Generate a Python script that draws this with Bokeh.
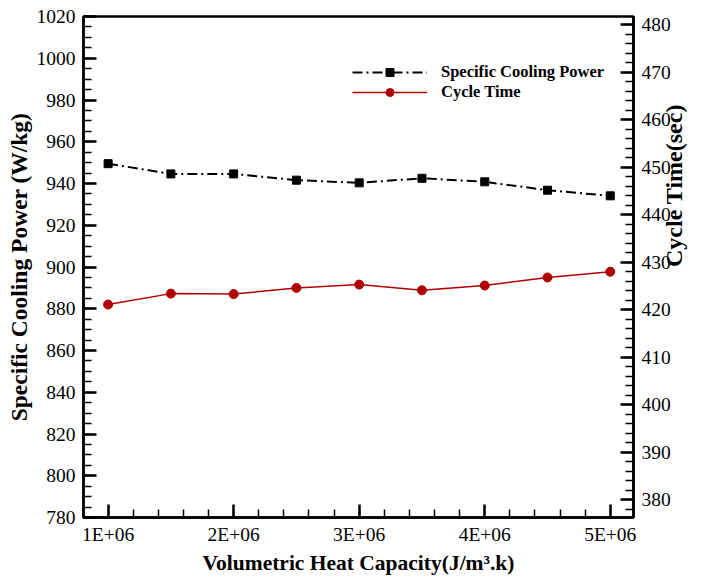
import math
from bokeh.plotting import figure
from bokeh.models import Range1d, LinearAxis, FixedTicker, Legend, LegendItem
from bokeh.embed import file_html
from bokeh.resources import INLINE

# ---- data ----
heat_capacity = [1.0e6, 1.5e6, 2.0e6, 2.5e6, 3.0e6, 3.5e6, 4.0e6, 4.5e6, 5.0e6]
specific_cooling_power = [949.5, 944.6, 944.6, 941.6, 940.3, 942.5, 940.8, 936.8, 934.1]
cycle_time = [421.1, 423.4, 423.3, 424.6, 425.3, 424.1, 425.1, 426.8, 428.0]

x_ticks = [1e6, 2e6, 3e6, 4e6, 5e6]
x_tick_labels = ["1E+06", "2E+06", "3E+06", "4E+06", "5E+06"]
left_ticks = list(range(780, 1021, 20))
right_ticks = list(range(380, 481, 10))

FONT = "Liberation Serif"

p = figure(width=702, height=577, output_backend="svg", toolbar_location=None,
           x_range=Range1d(0.804e6, 5.185e6), y_range=Range1d(780, 1020),
           min_border_left=83, min_border_right=67, min_border_top=16, min_border_bottom=56)
p.extra_y_ranges = {"ct": Range1d(376.3, 481.7)}
p.grid.visible = False
p.outline_line_color = "black"
p.outline_line_width = 2.5
p.background_fill_color = "white"
p.border_fill_color = "white"


def style_axis(ax, ticks, minor, label, label_size):
    ax.ticker = FixedTicker(ticks=ticks, minor_ticks=minor)
    ax.axis_label = label
    ax.axis_label_text_font = FONT
    ax.axis_label_text_font_style = "bold"
    ax.axis_label_text_font_size = label_size
    ax.axis_label_text_color = "black"
    ax.major_label_text_font = FONT
    ax.major_label_text_font_size = "19.5px"
    ax.major_label_text_color = "black"
    ax.axis_line_width = 2.5
    ax.axis_line_color = "black"
    ax.major_tick_in = 13
    ax.major_tick_out = 0
    ax.minor_tick_in = 8
    ax.minor_tick_out = 0
    ax.major_tick_line_width = 2.5
    ax.minor_tick_line_width = 1.5
    ax.major_tick_line_color = "black"
    ax.minor_tick_line_color = "black"
    ax.major_label_standoff = 8


xa = p.xaxis[0]
style_axis(xa, x_ticks, [1e6 + i * 0.2e6 for i in range(21)],
           "Volumetric Heat Capacity(J/m\u00b3.k)", "21.5px")
xa.major_label_overrides = {int(t): l for t, l in zip(x_ticks, x_tick_labels)}
xa.major_label_standoff = 6
xa.axis_label_standoff = 3

ya = p.yaxis[0]
style_axis(ya, left_ticks, list(range(780, 1021, 5)),
           "Specific Cooling Power (W/kg)", "23.5px")
ya.axis_label_standoff = 2

ra = LinearAxis(y_range_name="ct")
style_axis(ra, right_ticks, list(range(378, 481, 2)), "Cycle Time(sec)", "24px")
ra.axis_label_standoff = 0
try:
    ra.axis_label_orientation = math.pi / 2
except Exception:
    pass
ra.axis_label_text_align = "center"
p.add_layout(ra, "right")

# series
l1 = p.line(heat_capacity, specific_cooling_power, line_color="black", line_width=2,
            line_dash="10 4 2 4")
s1 = p.scatter(heat_capacity, specific_cooling_power, marker="square", size=8,
               fill_color="black", line_color="black")
l2 = p.line(heat_capacity, cycle_time, line_color="#b00000", line_width=1.5,
            y_range_name="ct")
s2 = p.scatter(heat_capacity, cycle_time, marker="circle", size=9,
               fill_color="#b00000", line_color="#b00000", y_range_name="ct")

legend = Legend(items=[LegendItem(label="Specific Cooling Power", renderers=[l1, s1]),
                       LegendItem(label="Cycle Time", renderers=[l2, s2])],
                location=(269, 415))
legend.label_text_font = FONT
legend.label_text_font_style = "bold"
legend.label_text_font_size = "16.5px"
legend.label_text_color = "black"
legend.glyph_width = 75
legend.glyph_height = 20
legend.label_height = 20
legend.spacing = 0
legend.padding = 0
legend.margin = 0
legend.label_standoff = 14
legend.border_line_color = None
legend.background_fill_alpha = 0
p.add_layout(legend, "center")

open("out.html", "w").write(file_html(p, INLINE))
